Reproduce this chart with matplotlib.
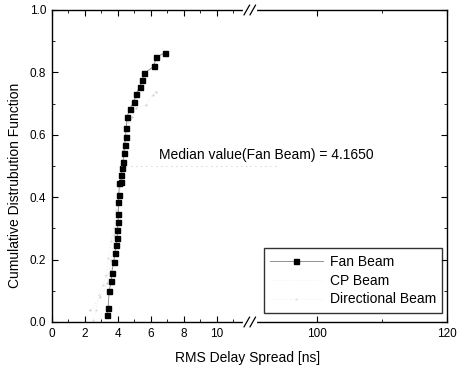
import matplotlib
matplotlib.use('Agg')
import matplotlib.pyplot as plt
from matplotlib.lines import Line2D

plt.rcParams['font.family'] = ['Liberation Sans', 'DejaVu Sans']

# Fan Beam CDF points
fan_x = [3.37, 3.41, 3.48, 3.60, 3.62, 3.76, 3.82, 3.90, 3.96, 3.98, 4.02, 4.03,
         4.04, 4.06, 4.10, 4.17, 4.21, 4.27, 4.31, 4.37, 4.41, 4.47, 4.51, 4.57,
         4.71, 4.98, 5.12, 5.32, 5.49, 5.59, 6.20, 6.30, 6.87]
fan_y = [0.022, 0.044, 0.100, 0.130, 0.158, 0.193, 0.222, 0.247, 0.269, 0.295, 0.320,
         0.345, 0.386, 0.407, 0.444, 0.450, 0.471, 0.492, 0.514, 0.541, 0.567, 0.594,
         0.621, 0.658, 0.682, 0.706, 0.731, 0.754, 0.776, 0.797, 0.820, 0.848, 0.863]

# the two faint series
cp_x = [2.50, 2.70, 2.84, 3.10, 3.30, 3.43, 3.60, 3.75, 3.90, 4.00, 4.10, 4.20, 4.30, 4.45, 4.60]
cp_y = [0.005, 0.040, 0.087, 0.120, 0.150, 0.205, 0.260, 0.300, 0.360, 0.400, 0.450,
        0.500, 0.550, 0.600, 0.640]
dir_x = [2.34, 2.94, 3.35, 3.60, 3.80, 3.95, 4.10, 4.25, 4.40, 4.55, 4.88, 5.08, 5.69, 6.10, 6.30]
dir_y = [0.038, 0.080, 0.124, 0.200, 0.280, 0.340, 0.400, 0.470, 0.540, 0.600, 0.658,
         0.685, 0.696, 0.727, 0.738]

median_fan = 4.1650
left_ticks = [0, 2, 4, 6, 8, 10]
right_ticks = [100, 120]
y_ticks = [0.0, 0.2, 0.4, 0.6, 0.8, 1.0]

fig = plt.figure(figsize=(4.58, 3.70), dpi=100)
x0, x_brk, x1 = 51.7 / 458, 250 / 458, 447 / 458
y0, h = 48 / 370, 312 / 370
ax1 = fig.add_axes([x0, y0, x_brk - x0, h])
ax2 = fig.add_axes([x_brk, y0, x1 - x_brk, h])

ax1.plot(dir_x, dir_y, color='#d0d0d0', lw=0.5, ls=(0, (1, 3)), marker='.', ms=1.2)
ax1.plot(cp_x, cp_y, color='#dcdcdc', lw=0.5, ls=(0, (1, 3)), marker='.', ms=1.2)
ax1.plot(fan_x, fan_y, color='#808080', lw=0.6, marker='s', ms=3.6,
         mfc='black', mec='black')
ax1.plot([median_fan, 12], [0.5, 0.5], color='#b0b0b0', lw=0.6, ls=(0, (1, 5)))
ax2.plot([89.7, 94], [0.5, 0.5], color='#b0b0b0', lw=0.6, ls=(0, (1, 5)))

ax1.set_xlim(0, 12)
ax2.set_xlim(89.7, 120)
for ax in (ax1, ax2):
    ax.set_ylim(0, 1.0)
    ax.tick_params(which='major', direction='in', length=4.5, width=0.8,
                   top=True, right=True, labelsize=8.5, pad=4)
    ax.tick_params(which='minor', direction='in', length=2.5, width=0.6,
                   top=True, right=True)
    for s in ax.spines.values():
        s.set_linewidth(1.0)

ax1.set_xticks(left_ticks)
ax1.set_xticks([1, 3, 5, 7, 9, 11], minor=True)
ax1.set_yticks(y_ticks)
ax1.set_yticklabels(['%.1f' % v for v in y_ticks])
ax1.set_yticks([0.1, 0.3, 0.5, 0.7, 0.9], minor=True)
ax1.spines['right'].set_visible(False)
ax1.tick_params(which='both', right=False)

ax2.set_xticks(right_ticks)
ax2.set_xticks([110], minor=True)
ax2.set_yticks(y_ticks)
ax2.set_yticks([0.1, 0.3, 0.5, 0.7, 0.9], minor=True)
ax2.spines['left'].set_visible(False)
ax2.tick_params(which='both', left=False, labelleft=False)

# break marks on top and bottom axis lines
for yb in (y0, y0 + h):
    fig.add_artist(Line2D([x_brk - 0.012, x_brk + 0.012], [yb, yb], color='white', lw=3))
    for dx in (-0.007, 0.006):
        fig.add_artist(Line2D([x_brk + dx - 0.006, x_brk + dx + 0.006],
                              [yb - 0.013, yb + 0.013], color='black', lw=0.9))

fig.text(6.48, 0.535, 'Median value(Fan Beam) = 4.1650', transform=ax1.transData,
         fontsize=10, va='center', ha='left')

handles = [Line2D([], [], color='#808080', lw=0.6, marker='s', ms=3.6, mfc='black', mec='black'),
           Line2D([], [], color='#f0f0f0', lw=0.5, ls=':'),
           Line2D([], [], color='#e0e0e0', lw=0.5, ls=(0, (1, 3)), marker='.', ms=1.2)]
leg = ax2.legend(handles, ['Fan Beam', 'CP Beam', 'Directional Beam'],
                 loc='lower right', bbox_to_anchor=(0.975, 0.03), borderaxespad=0,
                 fontsize=10, frameon=True, fancybox=False, handlelength=3.8,
                 labelspacing=0.35, borderpad=0.45, handletextpad=0.5)
leg.get_frame().set_edgecolor('black')
leg.get_frame().set_linewidth(1.0)

fig.text(248 / 458, 0.032, 'RMS Delay Spread [ns]', ha='center', va='center', fontsize=10)
fig.text(0.033, 0.5, 'Cumulative Distrubution Function', rotation=90,
         ha='center', va='center', fontsize=10)

fig.savefig('out.png', dpi=100)
